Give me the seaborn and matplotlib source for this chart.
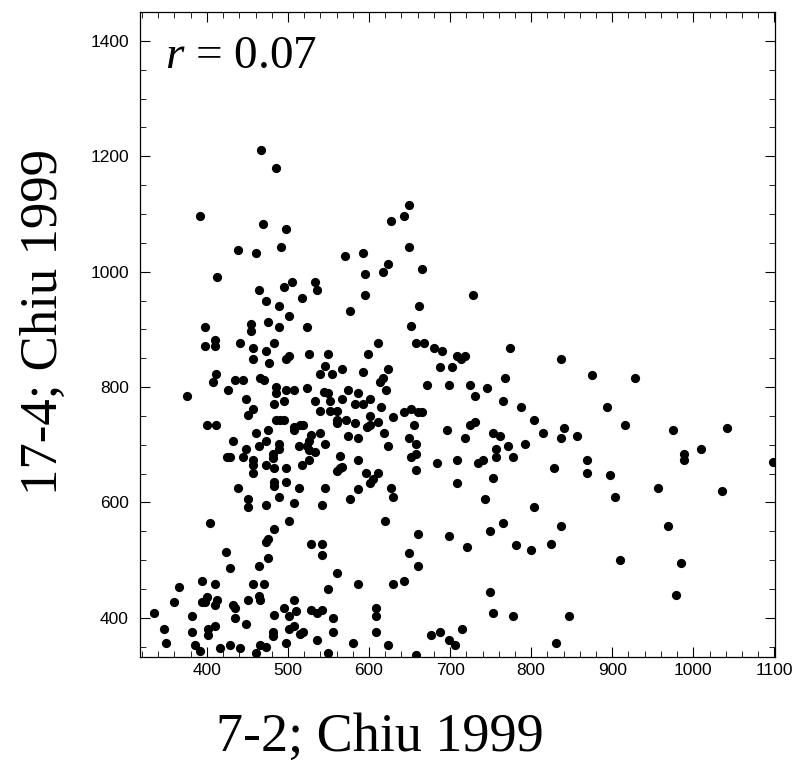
import pandas as pd
import seaborn as sns
import matplotlib.pyplot as plt
from matplotlib.ticker import MultipleLocator

# values (x: 7-2, y: 17-4)
chiu_7_2 = [
    467, 391, 469, 438, 460, 413, 464, 473,
    485, 498, 627, 492, 570, 592, 624, 617, 595, 505, 495, 533, 536, 517, 595, 489, 501, 576,
    649, 643, 649, 665, 728, 662,
    398, 454, 454, 475, 398, 410, 410, 441, 457, 473, 457, 411, 407, 435, 445, 466, 470, 426,
    376, 448, 457, 451, 400, 411, 460, 475, 432, 473, 448, 464, 425, 429, 445, 457, 457, 473,
    457, 438,
    489, 524, 611, 483, 526, 549, 599, 497, 501, 477, 546, 539, 554, 567, 592, 624, 617, 614,
    485, 485, 498, 508, 524, 621, 545, 549, 574, 586, 483, 495, 533, 552, 567, 583, 592, 601,
    615, 539, 552, 561, 485, 495, 490, 561, 571, 561, 583, 601, 611, 630, 597, 601, 507, 515,
    507, 518, 539, 619, 574, 586, 529, 526, 546, 624, 514, 524, 489, 489, 526, 533, 482, 482,
    564, 564, 567, 561, 586, 526, 517, 498, 483, 596, 611, 605, 601, 483, 498, 483, 514, 546,
    586, 627,
    652, 658, 668, 680, 690, 709, 718, 714, 774, 687, 702, 768, 671, 699, 724, 746, 731, 765,
    787, 643, 652, 661, 665, 655, 696, 724, 731, 753, 762, 649, 718, 658, 793, 771, 756, 658,
    652, 756, 778, 684, 709, 734, 740, 658, 753, 709,
    837, 875, 928, 894, 803, 815, 840, 837, 857, 916, 975, 1042, 1010, 988, 988, 869, 828, 869,
    897, 1098, 957, 1035,
    451, 451, 473, 404, 473, 476, 423, 475, 464, 429, 394, 410, 457, 470, 366, 400, 413, 394,
    398, 410, 360, 464, 466, 451, 432, 435, 335, 382, 435, 448, 347, 382, 401, 410, 401, 350,
    385, 391, 416, 429, 441, 460, 466, 473,
    489, 508, 542, 576, 630, 501, 620, 483, 529, 542, 542, 561, 586, 630, 549, 508, 495, 483,
    501, 510, 529, 536, 542, 555, 608, 608, 481, 481, 501, 508, 515, 518, 555, 608, 498, 536,
    580, 624, 549,
    743, 765, 749, 661, 699, 721, 781, 800, 649, 661, 643, 749, 753, 778, 715, 677, 687, 699,
    706, 658,
    803, 904, 837, 969, 824, 909, 985, 979, 847, 831,
]
chiu_17_4 = [
    1211, 1097, 1083, 1037, 1032, 991, 968, 949,
    1179, 1074, 1087, 1042, 1028, 1033, 1014, 1000, 996, 982, 973, 982, 968, 955, 959, 941, 923, 931,
    1115, 1097, 1042, 1005, 959, 941,
    904, 909, 898, 913, 871, 881, 871, 876, 867, 862, 849, 822, 808, 812, 812, 816, 812, 794,
    784, 780, 762, 752, 734, 734, 720, 726, 707, 707, 693, 698, 679, 679, 679, 674, 664, 665,
    651, 625,
    904, 904, 876, 876, 858, 858, 858, 849, 854, 841, 836, 822, 822, 831, 826, 831, 816, 808,
    800, 790, 794, 794, 799, 794, 791, 789, 794, 790, 771, 776, 776, 776, 780, 771, 771, 780,
    766, 758, 758, 759, 743, 743, 743, 743, 743, 737, 738, 749, 739, 748, 730, 734, 730, 734,
    726, 734, 720, 720, 715, 711, 716, 707, 702, 697, 697, 698, 702, 693, 690, 687, 684, 677,
    680, 660, 662, 655, 674, 674, 665, 660, 659, 651, 651, 641, 633, 636, 636, 629, 625, 625,
    623, 625,
    905, 876, 876, 867, 862, 854, 854, 848, 867, 835, 835, 816, 803, 803, 803, 798, 785, 776,
    766, 757, 762, 757, 757, 734, 725, 734, 739, 721, 715, 711, 711, 702, 702, 698, 693, 684,
    679, 679, 679, 669, 674, 669, 674, 656, 643, 633,
    849, 821, 816, 766, 743, 720, 729, 711, 715, 734, 725, 729, 692, 684, 674, 674, 660, 651,
    647, 670, 625, 620,
    606, 592, 596, 564, 532, 536, 514, 504, 490, 486, 464, 458, 458, 458, 454, 436, 431, 427,
    427, 422, 427, 438, 431, 431, 422, 417, 408, 403, 399, 390, 380, 376, 380, 385, 371, 357,
    353, 343, 348, 353, 348, 339, 353, 350,
    610, 599, 596, 606, 610, 568, 568, 554, 528, 528, 509, 477, 458, 458, 450, 431, 417, 404,
    403, 411, 413, 408, 413, 399, 417, 403, 376, 369, 380, 385, 372, 376, 376, 376, 357, 362,
    357, 353, 339,
    606, 564, 550, 546, 541, 523, 527, 518, 513, 490, 463, 445, 408, 403, 380, 371, 375, 362,
    353, 335,
    592, 610, 559, 559, 528, 500, 495, 440, 403, 357,
]

df = pd.DataFrame({"x": chiu_7_2, "y": chiu_17_4})

sns.set_style("ticks")
plt.rcParams["font.family"] = ["Liberation Sans", "DejaVu Sans"]
plt.rcParams["mathtext.fontset"] = "custom"
plt.rcParams["mathtext.rm"] = "Liberation Serif"
plt.rcParams["mathtext.it"] = "Liberation Serif:italic"
plt.rcParams["text.color"] = "black"
plt.rcParams["axes.labelcolor"] = "black"

fig = plt.figure(figsize=(8, 7.68), dpi=100)
ax = fig.add_axes([0.175, 0.1445, 0.794, 0.8398])

sns.scatterplot(data=df, x="x", y="y", color="black", s=44, linewidth=0, ax=ax, legend=False)

ax.set_xlim(317.5, 1101)
ax.set_ylim(332, 1450)
ax.xaxis.set_major_locator(MultipleLocator(100))
ax.xaxis.set_minor_locator(MultipleLocator(20))
ax.yaxis.set_major_locator(MultipleLocator(200))
ax.yaxis.set_minor_locator(MultipleLocator(50))
ax.set_xticks(range(400, 1101, 100))
ax.set_yticks(range(400, 1401, 200))

ax.tick_params(which="both", direction="in", top=True, right=True, colors="black",
               labelcolor="black")
ax.tick_params(which="major", length=7, width=0.8, labelsize=12.5)
ax.tick_params(axis="y", which="major", pad=8)
ax.tick_params(axis="x", which="major", pad=4)
ax.tick_params(which="minor", length=4, width=0.6)
for sp in ax.spines.values():
    sp.set_linewidth(0.9)
    sp.set_color("black")

ax.set_xlabel("7-2; Chiu 1999", fontfamily="Liberation Serif", fontsize=39, color="black")
ax.set_ylabel("17-4; Chiu 1999", fontfamily="Liberation Serif", fontsize=38, color="black")
ax.xaxis.set_label_coords(0.378, -0.085)
ax.yaxis.set_label_coords(-0.113, 0.519)

ax.text(0.039, 0.913, r"$r$ = 0.07", transform=ax.transAxes, fontfamily="Liberation Serif",
        fontsize=34, va="baseline", ha="left", color="black")

plt.savefig("out.png", dpi=100)
